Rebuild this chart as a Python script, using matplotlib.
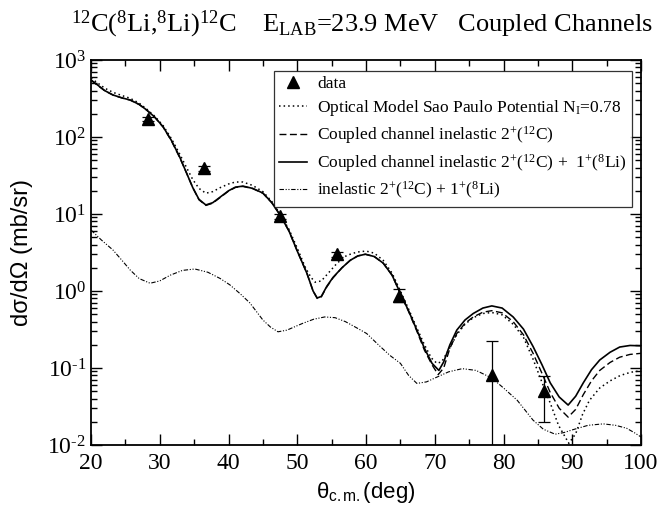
import matplotlib
matplotlib.use("Agg")
import matplotlib.pyplot as plt

plt.rcParams['font.family'] = 'Liberation Serif'
plt.rcParams['mathtext.fontset'] = 'custom'
plt.rcParams['mathtext.rm'] = 'Liberation Serif'
plt.rcParams['mathtext.it'] = 'Liberation Serif:italic'
plt.rcParams['mathtext.sf'] = 'Liberation Sans'
plt.rcParams['axes.unicode_minus'] = False

# experimental data
data_theta = [28.3, 36.4, 47.5, 55.8, 64.8, 78.3, 85.9]
data_sigma = [171, 39, 9.4, 3.0, 0.86, 0.081, 0.050]
err_low = [12, 3, 0.7, 0.22, 0.14, 0.0805, 0.0303]
err_high = [12, 3, 0.7, 0.22, 0.21, 0.145, 0.0287]

# Optical model, Sao Paulo potential
om_theta = [20, 21, 22, 23.2, 24.5, 25.7, 27, 28.1, 29.3, 30.5, 31.7, 32.9, 33.9, 34.8,
            35.7, 36.7, 37.7, 38.8, 40, 41, 42.1, 43.5, 45, 46.3, 47.5, 48.8, 50, 51.2,
            52, 52.6, 53.5, 54.5, 55.8, 57.2, 58.7, 60, 61.2, 62.5, 63.8, 65, 66.2, 67.4,
            68.5, 69.5, 70.3, 71, 72, 73.2, 74.4, 75.6, 77, 78.3, 79.8, 81.4, 82.9, 84.3,
            85.6, 86.8, 88, 89.5, 90.5, 91.5, 92.5, 94, 95.5, 97, 98.5, 100]
om_sigma = [580, 500, 430, 380, 345, 318, 275, 230, 185, 140, 95, 60, 40, 28,
            21.5, 18.6, 19.5, 22, 24.5, 26, 26, 23.5, 19.5, 14.5, 10, 6.3, 3.6, 2.0,
            1.5, 1.3, 1.35, 1.7, 2.3, 2.9, 3.2, 3.3, 3.1, 2.5, 1.7, 1.0, 0.58, 0.33,
            0.2, 0.135, 0.115, 0.12, 0.17, 0.27, 0.37, 0.45, 0.51, 0.525, 0.49, 0.37, 0.25, 0.13,
            0.065, 0.035, 0.018, 0.0105, 0.014, 0.025, 0.038, 0.055, 0.068, 0.08, 0.088, 0.092]

# coupled channels 2+(12C)
cc1_theta = [20, 21, 22, 23.2, 24.5, 25.7, 27, 28.1, 29.3, 30.5, 31.7, 32.9, 33.9, 34.8,
             35.7, 36.7, 37.7, 38.8, 40, 41, 42.1, 43.5, 45, 46.3, 47.5, 48.8, 50, 51.4,
             52.3, 52.9, 53.5, 54.3, 55.2, 56.5, 57.7, 58.8, 59.9, 61.2, 62.5, 63.8, 65, 66.2,
             67.4, 68.5, 69.6, 70.5, 71.3, 72.2, 73.2, 74.4, 75.6, 77, 78.3, 79.8, 81.4, 82.9,
             84.3, 85.6, 86.8, 88.1, 89.4, 90.5, 91.6, 92.8, 94, 95.5, 96.9, 98.4, 100]
cc1_sigma = [545, 465, 398, 350, 321, 301, 264, 223, 179, 134, 89, 54, 34, 22,
             15.3, 12.9, 13.8, 16.4, 19.8, 22.1, 22.8, 21.4, 18.6, 14, 9.7, 6.0, 3.3, 1.7,
             1.0, 0.80, 0.84, 1.13, 1.48, 2.0, 2.5, 2.85, 3.0, 2.8, 2.3, 1.6, 0.92, 0.54,
             0.30, 0.17, 0.11, 0.082, 0.1, 0.18, 0.28, 0.38, 0.46, 0.53, 0.555, 0.52, 0.4, 0.27,
             0.155, 0.085, 0.048, 0.03, 0.023, 0.029, 0.045, 0.068, 0.093, 0.118, 0.138, 0.15, 0.155]

# coupled channels 2+(12C) + 1+(8Li)
cc2_theta = [20, 21, 22, 23.2, 24.5, 25.7, 27, 28.1, 29.3, 30.5, 31.7, 32.9, 33.9, 34.8,
             35.7, 36.7, 37.7, 38.8, 40, 41, 42.1, 43.5, 45, 46.3, 47.5, 48.8, 50, 51.4,
             52.3, 52.9, 53.5, 54.3, 55.2, 56.5, 57.7, 58.8, 59.9, 61.2, 62.5, 63.8, 65, 66.2,
             67.4, 68.5, 69.6, 70.6, 71.3, 72.2, 73.2, 74.4, 75.6, 77, 78.3, 79.8, 81.4, 82.9,
             84.3, 85.6, 86.8, 88.1, 89.4, 90.5, 91.6, 92.8, 94, 95.5, 96.9, 98.4, 100]
cc2_sigma = [550, 470, 400, 351, 322, 302, 265, 224, 180, 135, 90, 55, 34, 22,
             15.5, 13.1, 14.0, 16.6, 20, 22.3, 23, 21.5, 18.7, 14, 9.7, 6.0, 3.3, 1.7,
             1.0, 0.81, 0.85, 1.15, 1.5, 2.0, 2.5, 2.85, 3.0, 2.8, 2.3, 1.6, 0.93, 0.55,
             0.31, 0.18, 0.115, 0.093, 0.12, 0.2, 0.31, 0.42, 0.51, 0.6, 0.64, 0.6, 0.46, 0.32,
             0.19, 0.11, 0.064, 0.042, 0.033, 0.043, 0.064, 0.095, 0.127, 0.16, 0.187, 0.196, 0.194]

# inelastic 2+(12C) + 1+(8Li)
inel_theta = [20, 21.5, 23.2, 24.5, 25.7, 27, 28.6, 30, 31.5, 33.3, 35.1, 37, 38.8, 40.2,
              41.7, 43.1, 44, 45, 46.1, 47.2, 48.5, 49.7, 50.8, 52.4, 54, 55.5, 57, 58.7,
              60.1, 61.8, 63.5, 65, 66.2, 67.4, 68.8, 70.3, 72, 74, 76, 78.3, 80, 82,
              84.3, 85.8, 87.5, 88.8, 90.1, 92.3, 94.5, 96.3, 97.9, 99, 100]
inel_sigma = [6.2, 4.6, 3.4, 2.5, 1.87, 1.45, 1.26, 1.35, 1.6, 1.85, 1.93, 1.75, 1.45, 1.2,
              0.92, 0.70, 0.55, 0.42, 0.34, 0.295, 0.31, 0.345, 0.38, 0.43, 0.46, 0.45, 0.4, 0.33,
              0.28, 0.2, 0.145, 0.115, 0.08, 0.063, 0.066, 0.076, 0.089, 0.098, 0.093, 0.074, 0.055, 0.038,
              0.021, 0.016, 0.0138, 0.0145, 0.0158, 0.018, 0.0188, 0.018, 0.0165, 0.0145, 0.0127]

x_ticks = [20, 30, 40, 50, 60, 70, 80, 90, 100]
y_ticks = [1e-2, 1e-1, 1e0, 1e1, 1e2, 1e3]
y_ticklabels = ['10$^{\u2010 2}$', '10$^{\u2010 1}$', '10$^{0}$', '10$^{1}$', '10$^{2}$', '10$^{3}$']

fig = plt.figure(figsize=(6.59, 5.13), dpi=100)
ax = fig.add_axes([0.1381, 0.1326, 0.8346, 0.7505])

ax.plot(data_theta, data_sigma, '^', color='black', ms=9, label='data', zorder=6)
ax.plot(om_theta, om_sigma, color='black', lw=1.1, ls=(0, (1, 2)),
        label='Optical Model Sao Paulo Potential N$_{\\mathrm{I}}$=0.78')
ax.plot(cc1_theta, cc1_sigma, color='black', lw=1.0, ls=(0, (5, 2.5)),
        label='Coupled channel inelastic 2$^{+}$($^{12}$C)')
ax.plot(cc2_theta, cc2_sigma, color='black', lw=1.2,
        label='Coupled channel inelastic 2$^{+}$($^{12}$C) +  1$^{+}$($^{8}$Li)')
ax.plot(inel_theta, inel_sigma, color='black', lw=0.8, ls=(0, (4, 1.5, 1, 1.5, 1, 1.5)),
        label='inelastic 2$^{+}$($^{12}$C) + 1$^{+}$($^{8}$Li)')
ax.errorbar(data_theta, data_sigma, yerr=[err_low, err_high], fmt='none', ecolor='black',
            capsize=4.5, elinewidth=0.9, capthick=0.9, zorder=5)

ax.set_yscale('log')
ax.set_xlim(20, 100)
ax.set_ylim(1e-2, 1e3)
ax.set_xticks(x_ticks)
ax.set_xticks(range(25, 100, 10), minor=True)
ax.set_yticks(y_ticks)
ax.set_yticklabels(y_ticklabels)

ax.tick_params(which='both', direction='in', top=True, right=True, labelsize=17, width=1)
ax.tick_params(which='major', length=8)
ax.tick_params(which='minor', length=4)
ax.tick_params(axis='x', pad=6)
for s in ax.spines.values():
    s.set_linewidth(1.3)

ax.set_xlabel('θ$_{\\mathsf{c.m.}}$(deg)', family='Liberation Sans', fontsize=16, labelpad=4)
ax.set_ylabel('dσ/dΩ (mb/sr)', family='Liberation Sans', fontsize=17)
ax.yaxis.set_label_coords(-0.105, 0.5)

leg = ax.legend(loc='upper right', bbox_to_anchor=(0.984, 0.972), borderaxespad=0,
                fontsize=12.5, frameon=True, fancybox=False, edgecolor='black',
                handlelength=1.6, handletextpad=0.6, labelspacing=0.35, borderpad=0.3)
leg.get_frame().set_linewidth(0.9)

fig.text(0.549, 0.953, '$^{12}$C($^{8}$Li,$^{8}$Li)$^{12}$C    E$_{\\mathrm{LAB}}$=23.9 MeV   Coupled Channels',
         ha='center', va='center', fontsize=19)

fig.savefig('out.png', dpi=100)
